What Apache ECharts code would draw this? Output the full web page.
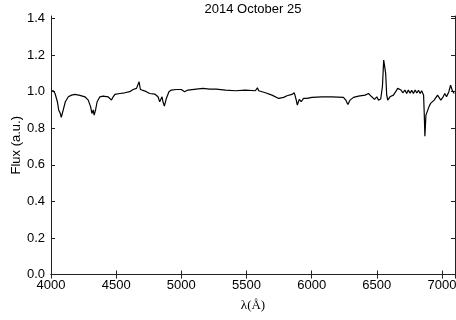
<!DOCTYPE html>
<html>
  <head>
    <meta charset="utf-8" />
    <title>Spectrum</title>
    <script src="https://cdn.jsdelivr.net/npm/echarts@6/dist/echarts.min.js"></script>
    <style>
      html, body { margin: 0; padding: 0; background: #fff; }
    </style>
  </head>
  <body>
    <div id="main" style="width: 456px;height:320px;"></div>
    <script type="text/javascript">
      // wavelength (Angstrom) and normalised flux
      var wavelength = [4000, 4018, 4031, 4049, 4059, 4069, 4079, 4094, 4110, 4133, 4158, 4184, 4222, 4260,
        4286, 4304, 4314, 4324, 4331, 4342, 4354, 4375, 4400, 4438, 4464, 4477, 4490, 4528, 4566, 4604,
        4630, 4656, 4663, 4676, 4686, 4696, 4732, 4757, 4796, 4821, 4834, 4844, 4852, 4859, 4870, 4885,
        4905, 4923, 4962, 5000, 5025, 5050, 5115, 5165, 5217, 5268, 5339, 5415, 5492, 5568, 5584, 5594,
        5645, 5696, 5747, 5785, 5811, 5849, 5867, 5874, 5882, 5890, 5905, 5920, 5938, 5964, 6002, 6079,
        6155, 6244, 6262, 6278, 6295, 6321, 6359, 6410, 6436, 6461, 6482, 6500, 6512, 6530, 6543, 6553,
        6561, 6568, 6576, 6584, 6601, 6627, 6645, 6660, 6673, 6686, 6699, 6716, 6729, 6742, 6755, 6768,
        6781, 6794, 6807, 6820, 6832, 6844, 6859, 6864, 6869, 6877, 6887, 6900, 6913, 6925, 6940, 6951,
        6966, 6976, 6991, 7009, 7022, 7035, 7053, 7066, 7078, 7094];
      var flux = [1.005, 1.005, 0.99, 0.945, 0.90, 0.885, 0.86, 0.90, 0.945, 0.972, 0.981, 0.985, 0.980, 0.972,
        0.954, 0.917, 0.881, 0.90, 0.872, 0.90, 0.945, 0.972, 0.976, 0.972, 0.954, 0.972, 0.985, 0.99, 0.994, 1.0,
        1.012, 1.018, 1.012, 1.054, 1.012, 1.003, 1.0, 0.99, 0.987, 0.972, 0.945, 0.936, 0.972, 0.945, 0.921, 0.963,
        1.0, 1.009, 1.012, 1.012, 1.0, 1.009, 1.014, 1.018, 1.014, 1.014, 1.009, 1.005, 1.009, 1.005, 1.021, 1.005,
        0.994, 0.981, 0.963, 0.969, 0.978, 0.985, 0.994, 1.0, 0.954, 0.927, 0.958, 0.945, 0.963, 0.963, 0.969, 0.972,
        0.972, 0.969, 0.954, 0.930, 0.954, 0.969, 0.976, 0.981, 0.99, 0.972, 0.958, 0.972, 0.954, 0.96, 1.027, 1.173,
        1.177, 1.10, 0.981, 0.954, 0.972, 0.981, 1.0, 1.018, 1.027, 1.009, 0.994, 1.009, 0.99, 1.009, 0.992, 1.007,
        0.99, 1.009, 0.993, 1.008, 0.99, 1.005, 0.981, 0.881, 0.757, 0.872, 0.866, 0.917, 0.936, 0.945, 0.954, 0.945,
        0.981, 0.99, 0.954, 0.972, 0.99, 0.972, 1.0, 1.036, 1.009, 0.99];
      var xTicks = [4000, 4500, 5000, 5500, 6000, 6500, 7000];
      var yTicks = [0.0, 0.2, 0.4, 0.6, 0.8, 1.0, 1.2, 1.4];

      var points = wavelength.map(function (w, i) { return [w, flux[i]]; });
      var font = 'Liberation Sans';

      function yLabel(v) {
        for (var i = 0; i < yTicks.length; i++) {
          if (Math.abs(v - yTicks[i]) < 1e-6) return yTicks[i].toFixed(1);
        }
        return '';
      }
      function xLabel(v) {
        return xTicks.indexOf(v) >= 0 ? String(v) : '';
      }

      var myChart = echarts.init(document.getElementById('main'));
      var frame = { show: true, lineStyle: { color: '#222', width: 1 } };
      var tick = { show: true, inside: true, length: 4, lineStyle: { color: '#222' } };

      option = {
        animation: false,
        title: {
          text: '2014 October 25',
          left: 253,
          textAlign: 'center',
          top: 3,
          padding: 0,
          textStyle: { fontFamily: font, fontSize: 13, fontWeight: 'normal', color: '#000' }
        },
        grid: { left: 51, right: 1, top: 16, bottom: 45.5, containLabel: false, outerBoundsMode: 'none' },
        xAxis: [
          {
            type: 'value', min: 4000, max: 7100, interval: 500,
            axisLine: frame, axisTick: tick, splitLine: { show: false },
            axisLabel: { formatter: xLabel, showMaxLabel: false, margin: 4, fontFamily: font, fontSize: 13, color: '#000' },
            name: 'λ(Å)', nameLocation: 'middle', nameGap: 25, nameMoveOverlap: false,
            nameTextStyle: { fontFamily: 'Liberation Serif', fontSize: 13, color: '#000' }
          },
          {
            type: 'value', position: 'top', min: 4000, max: 7100, interval: 500,
            axisLine: frame, axisTick: tick, axisLabel: { show: false }, splitLine: { show: false }
          }
        ],
        yAxis: [
          {
            type: 'value', min: 0, max: 1.414, interval: 0.2,
            axisLine: frame, axisTick: tick, splitLine: { show: false },
            axisLabel: { formatter: yLabel, showMaxLabel: false, margin: 6, fontFamily: font, fontSize: 13, color: '#000' },
            name: 'Flux (a.u.)', nameLocation: 'middle', nameGap: 28, nameMoveOverlap: false,
            nameTextStyle: { fontFamily: font, fontSize: 13, color: '#000' }
          },
          {
            type: 'value', position: 'right', min: 0, max: 1.414, interval: 0.2,
            axisLine: frame, axisTick: tick, axisLabel: { show: false }, splitLine: { show: false }
          }
        ],
        series: [
          {
            name: 'flux',
            type: 'line',
            data: points,
            showSymbol: false,
            lineStyle: { color: '#000', width: 1.2 }
          }
        ]
      };
      myChart.setOption(option);
    </script>
  </body>
</html>
